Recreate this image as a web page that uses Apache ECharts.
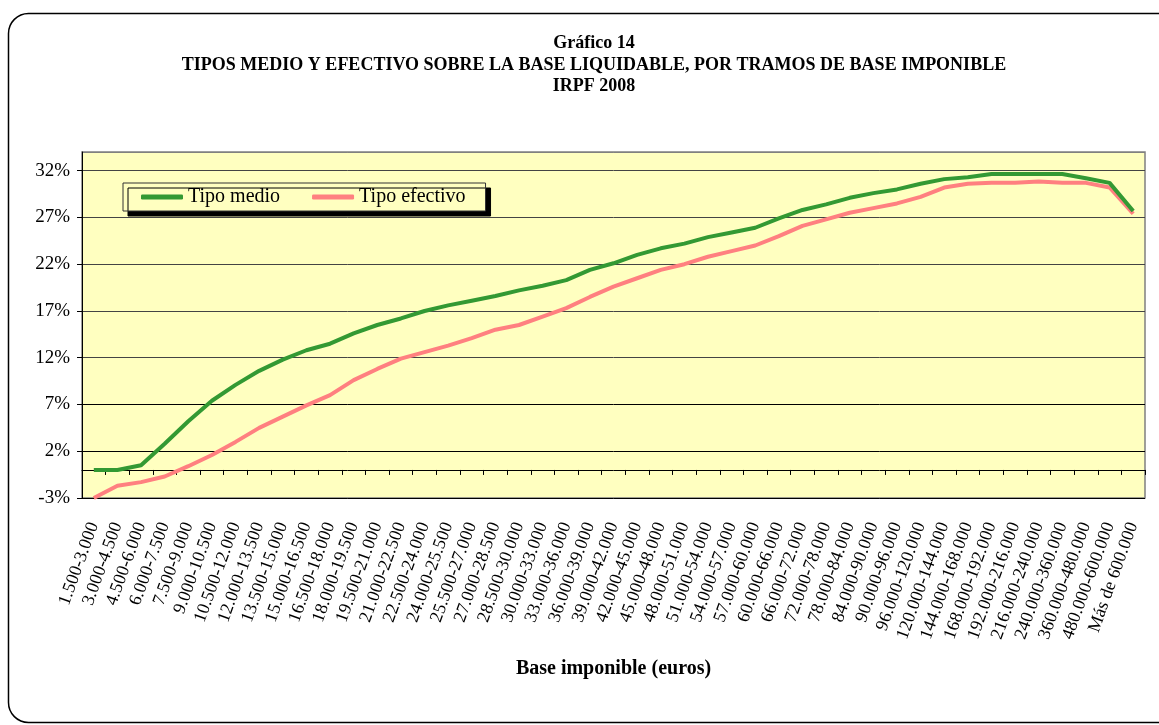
<!DOCTYPE html>
<html>
<head>
<meta charset="utf-8">
<script src="https://cdn.jsdelivr.net/npm/echarts@6/dist/echarts.min.js"></script>
<style>
html,body{margin:0;padding:0;background:#fff;}
#c{width:1159px;height:725px;}
</style>
</head>
<body>
<div id="c"></div>
<script>
const categories = ["1.500-3.000","3.000-4.500","4.500-6.000","6.000-7.500","7.500-9.000","9.000-10.500","10.500-12.000","12.000-13.500","13.500-15.000","15.000-16.500","16.500-18.000","18.000-19.500","19.500-21.000","21.000-22.500","22.500-24.000","24.000-25.500","25.500-27.000","27.000-28.500","28.500-30.000","30.000-33.000","33.000-36.000","36.000-39.000","39.000-42.000","42.000-45.000","45.000-48.000","48.000-51.000","51.000-54.000","54.000-57.000","57.000-60.000","60.000-66.000","66.000-72.000","72.000-78.000","78.000-84.000","84.000-90.000","90.000-96.000","96.000-120.000","120.000-144.000","144.000-168.000","168.000-192.000","192.000-216.000","216.000-240.000","240.000-360.000","360.000-480.000","480.000-600.000","Más de 600.000"];
const tipoMedio = [0.0,0.0,0.5,2.8,5.2,7.4,9.1,10.6,11.8,12.8,13.5,14.6,15.5,16.2,17.0,17.6,18.1,18.6,19.2,19.7,20.3,21.4,22.1,23.0,23.7,24.2,24.9,25.4,25.9,26.9,27.8,28.4,29.1,29.6,30.0,30.6,31.1,31.3,31.65,31.65,31.65,31.65,31.2,30.7,27.7];
const tipoEfectivo = [-3.0,-1.7,-1.3,-0.7,0.4,1.6,3.0,4.5,5.7,6.9,8.0,9.6,10.8,11.9,12.6,13.3,14.1,15.0,15.5,16.4,17.3,18.5,19.6,20.5,21.4,22.0,22.8,23.4,24.0,25.0,26.1,26.8,27.5,28.0,28.5,29.2,30.2,30.6,30.7,30.7,30.85,30.7,30.7,30.2,27.4];
const yTicks = {min: -3, max: 34, interval: 5};
const titleLines = ["Gráfico 14","TIPOS MEDIO Y EFECTIVO SOBRE LA BASE LIQUIDABLE, POR TRAMOS DE BASE IMPONIBLE","IRPF 2008"];
const xAxisName = "Base imponible (euros)";
const seriesNames = ["Tipo medio","Tipo efectivo"];

const chart = echarts.init(document.getElementById('c'), null, {renderer:'canvas'});
const serif = '"Liberation Serif","Times New Roman",serif';
chart.setOption({
  animation: false,
  backgroundColor: '#ffffff',
  textStyle: {fontFamily: serif, color: '#000'},
  title: {
    text: titleLines.join('\n'),
    left: 589, top: 28, textAlign: 'center',
    textStyle: {fontFamily: serif, fontWeight: 'bold', fontSize: 18, lineHeight: 21.5, color: '#000'}
  },
  graphic: [{
    type: 'rect', silent: true, z: -10,
    shape: {x: 8.5, y: 13.5, width: 1170, height: 709, r: 20},
    style: {fill: 'none', stroke: '#000', lineWidth: 1.5}
  }],
  legend: {
    left: 123, top: 183,
    padding: [4, 20, 4, 18],
    itemGap: 32,
    itemWidth: 42, itemHeight: 5,
    icon: 'roundRect',
    backgroundColor: '#FFFFC0',
    borderColor: '#333', borderWidth: 1,
    shadowColor: '#000', shadowBlur: 0, shadowOffsetX: 5, shadowOffsetY: 5,
    textStyle: {fontFamily: serif, fontSize: 20, color: '#000'},
    data: seriesNames
  },
  grid: {
    left: 82, top: 152, right: 14, bottom: 227,
    show: true, backgroundColor: '#FFFFC0', borderColor: '#808080', borderWidth: 1.5,
    containLabel: false
  },
  xAxis: {
    type: 'category', data: categories, boundaryGap: true,
    axisLine: {lineStyle: {color: '#000', width: 1}},
    axisTick: {show: true, length: 5, lineStyle: {color: '#000'}},
    axisLabel: {interval: 0, rotate: 70, margin: 25, fontSize: 18, fontFamily: serif, color: '#000'},
    name: xAxisName, nameLocation: 'middle', nameGap: 161,
    nameTextStyle: {fontFamily: serif, fontWeight: 'bold', fontSize: 20, color: '#000'}
  },
  yAxis: {
    type: 'value', min: yTicks.min, max: yTicks.max, interval: yTicks.interval,
    axisLine: {show: true, lineStyle: {color: '#000', width: 1}},
    axisTick: {show: true, length: 5, lineStyle: {color: '#000'}},
    axisLabel: {formatter: '{value}%', fontSize: 19, fontFamily: serif, color: '#000', margin: 12, showMaxLabel: false},
    splitLine: {show: true, lineStyle: {color: ['#000','#000','#000','#444','#444','#444','#444','#444','#808080'], width: 1}}
  },
  series: [
    {name: seriesNames[0], type: 'line', data: tipoMedio, symbol: 'none', lineStyle: {color: '#339933', width: 4}, itemStyle: {color: '#339933'}, z: 3},
    {name: seriesNames[1], type: 'line', data: tipoEfectivo, symbol: 'none', lineStyle: {color: '#FF8080', width: 4}, itemStyle: {color: '#FF8080'}, z: 2}
  ]
});
</script>
</body>
</html>
